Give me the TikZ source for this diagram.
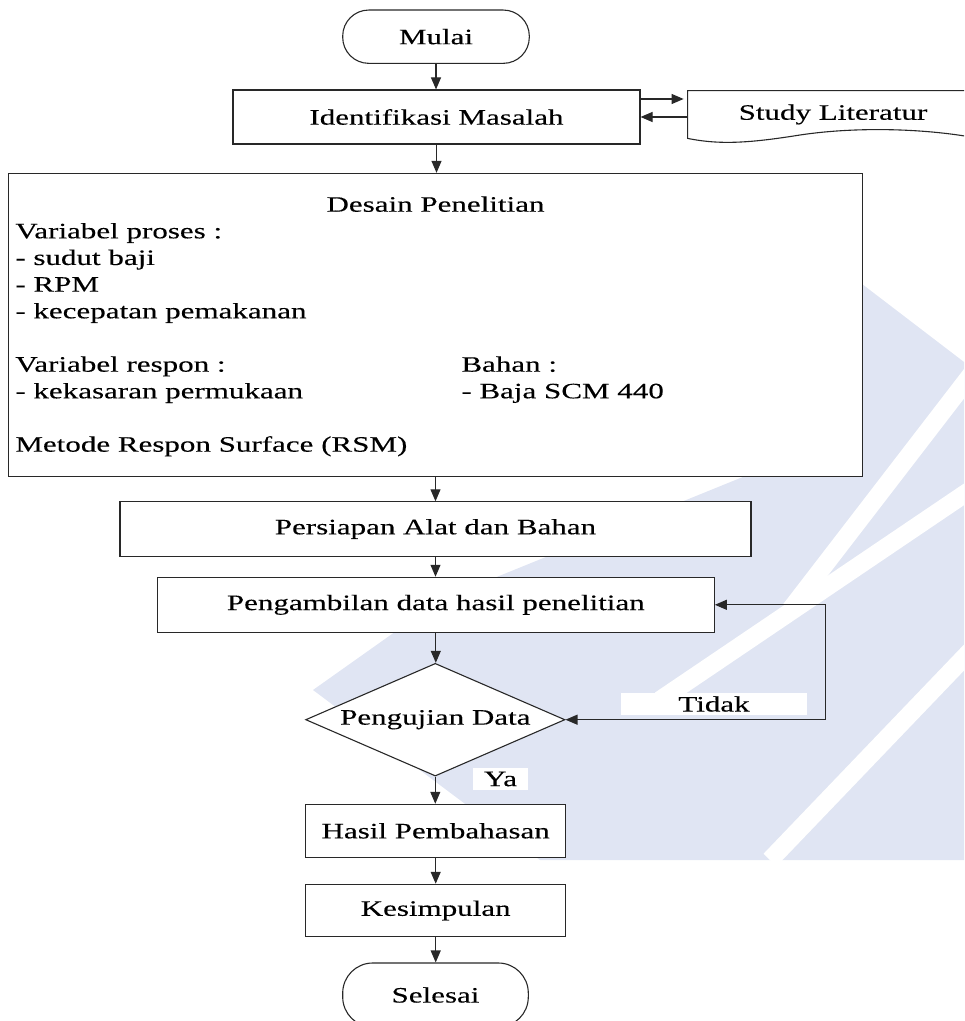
\documentclass[tikz,border=0pt]{standalone}
\usepackage{fontspec}
\setmainfont{Liberation Serif}[FakeStretch=1.41,FakeBold=0.2]
\usetikzlibrary{shapes.geometric,arrows.meta,positioning}
\definecolor{wmbiru}{RGB}{224,229,243}
\definecolor{garis}{RGB}{40,40,40}

\tikzset{
  kotak/.style={draw=garis,fill=white,inner sep=0pt,line width=0.55pt},
  terminal/.style={kotak,rounded corners=13pt},
  keputusan/.style={kotak,diamond,aspect=2.3},
  labelputih/.style={fill=white,inner sep=0pt},
  baris/.style={anchor=base west,inner sep=0pt},
  panah/.style={-{Triangle[length=6pt,width=5pt]},line width=0.55pt},
  duapanah/.style={{Triangle[length=6pt,width=5pt]}-{Triangle[length=6pt,width=5pt]},line width=0.55pt},
}

\begin{document}
\begin{tikzpicture}[x=0.5pt,y=-0.5pt,font=\fontsize{11}{13.35}\selectfont]
\useasboundingbox (0,0) rectangle (964,1021);
\clip (0,0) rectangle (964,1021);

% watermark di belakang
\fill[wmbiru] (862,284) -- (964,362) -- (964,860) -- (540,860) -- (313,690) -- (440,600) -- (760,470) -- (840,270) -- cycle;
\draw[white,line width=9pt] (1000,337) -- (790,610);
\draw[white,line width=9pt] (1000,470) -- (660,700);
\draw[white,line width=9pt] (1000,620) -- (770,860);

% alur utama
\node[terminal,minimum width=93.3pt,minimum height=26.65pt] (mulai) at (436,36.7) {Mulai};
\node[kotak,minimum width=203.5pt,minimum height=27pt] (identifikasi) at (436.5,117) {Identifikasi Masalah};
\node[minimum width=145pt,minimum height=23.5pt,inner sep=0pt] (studi) at (833,114.5) {Study Literatur};
\draw[garis,line width=0.55pt] (studi.south east) .. controls (930,129) and (860,126) .. (800,135)
  .. controls (750,143) and (720,145) .. (studi.south west) -- (studi.north west) -- (studi.north east) -- (studi.south east);

\node[kotak,minimum width=426.85pt,minimum height=151.6pt] (desain) at (435.5,325) {};
\node[anchor=base] (judul) at (435.5,211.7) {Desain Penelitian};
\foreach \k/\teks in {0/Variabel proses :,1/- sudut baji,2/- RPM,3/- kecepatan pemakanan,
  5/Variabel respon :,6/- kekasaran permukaan,8/Metode Respon Surface (RSM)}
  \node[baris] (var\k) at (15,238.3+26.67*\k) {\teks};
\node[baris] (bahan) at (461,371.7) {Bahan :};
\node[baris] (baja) at (461,398.3) {- Baja SCM 440};

\node[kotak,minimum width=315.5pt,minimum height=27.15pt] (persiapan) at (435.5,529) {Persiapan Alat dan Bahan};
\node[kotak,minimum width=278.5pt,minimum height=27.5pt] (ambil) at (435.8,604.8) {Pengambilan data hasil penelitian};
\node[keputusan,minimum width=129.65pt,minimum height=56.35pt] (uji) at (435.3,719.7) {Pengujian Data};
\node[kotak,minimum width=130pt,minimum height=26.5pt] (hasil) at (435.7,830.8) {Hasil Pembahasan};
\node[kotak,minimum width=130pt,minimum height=26.2pt] (simpulan) at (435.7,910.5) {Kesimpulan};
\node[terminal,minimum width=92.8pt,minimum height=32pt,rounded corners=15pt] (selesai) at (435.5,995) {Selesai};

\node[labelputih,minimum width=93pt,minimum height=11.3pt] (tidak) at (714,704) {Tidak};
\node[labelputih,minimum width=27.8pt,minimum height=11pt] (ya) at (500.5,779) {Ya};

% panah
\foreach \a/\b in {mulai/identifikasi,identifikasi/desain,desain/persiapan,persiapan/ambil,
  ambil/uji,uji/hasil,hasil/simpulan,simpulan/selesai}
  \draw[panah,garis] (\a.south) -- (\a.south |- \b.north);
\coordinate (ia) at ([yshift=9pt]identifikasi.east);
\draw[panah,garis,shorten >=2pt] (ia) -- (ia -| studi.west);
\draw[panah,garis] (studi.west |- identifikasi.east) -- (identifikasi.east);
\coordinate (balik) at (825.3,650);
\draw[duapanah,garis] (uji.east) -| (balik) |- (ambil.east);
\end{tikzpicture}
\end{document}
